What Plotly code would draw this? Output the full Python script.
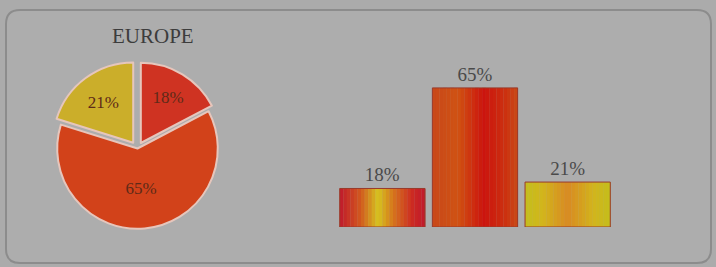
import plotly.graph_objects as go

# ---- data ----
categories = ["A", "B", "C"]
bar_values = [18, 65, 21]
bar_labels = ["18%", "65%", "21%"]

pie_values = [18, 65, 21]
pie_labels = ["18%", "65%", "21%"]
pie_pull = [0.08, 0, 0.09]
pie_colors = ["#cf3322", "#d2421a", "#cbae2a"]

title_text = "EUROPE"

W, H = 716, 267

def px(x):
    return x / W

def py(y):
    return 1 - y / H

def hex2rgb(h):
    h = h.lstrip("#")
    return tuple(int(h[i:i + 2], 16) for i in (0, 2, 4))

def grad(stops, t):
    for (t0, c0), (t1, c1) in zip(stops, stops[1:]):
        if t0 <= t <= t1:
            f = (t - t0) / (t1 - t0) if t1 > t0 else 0
            a, b = hex2rgb(c0), hex2rgb(c1)
            return "rgb(%d,%d,%d)" % tuple(round(a[i] + (b[i] - a[i]) * f) for i in range(3))
    return stops[-1][1]

bar_gradients = [
    [(0, "#c01a2c"), (0.25, "#d25a1e"), (0.45, "#d6c420"), (0.62, "#d6781c"), (0.85, "#cc2a22"), (1, "#c0182c")],
    [(0, "#c8481a"), (0.3, "#d05212"), (0.6, "#cc140e"), (0.85, "#cc3010"), (1, "#c84a16")],
    [(0, "#c4be1c"), (0.2, "#d2b61c"), (0.5, "#d88a22"), (0.8, "#d2b41c"), (1, "#c4be1c")],
]

fig = go.Figure()

# gradient strips for bars
BW = 0.92
N = 24
for k in range(N):
    t = (k + 0.5) / N
    fig.add_trace(go.Bar(
        x=categories, y=bar_values,
        width=[BW / N * 1.08] * 3,
        offset=[-BW / 2 + k * BW / N] * 3,
        marker=dict(color=[grad(g, t) for g in bar_gradients], line=dict(width=0)),
        xaxis="x", yaxis="y", hoverinfo="skip", showlegend=False,
    ))

# outline + labels
fig.add_trace(go.Bar(
    x=categories, y=bar_values, width=[BW] * 3, offset=[-BW / 2] * 3,
    text=bar_labels, textposition="outside", cliponaxis=False,
    constraintext="none",
    textfont=dict(family="Liberation Serif", size=19, color="#4a4a4a"),
    marker=dict(color="rgba(0,0,0,0)", line=dict(color="#9a3a2a", width=1)),
    xaxis="x", yaxis="y", showlegend=False,
))

fig.add_trace(go.Pie(
    values=pie_values, text=pie_labels, textinfo="text",
    sort=False, direction="clockwise", rotation=0,
    pull=pie_pull,
    marker=dict(colors=pie_colors, line=dict(color="#e6c6bc", width=2)),
    textfont=dict(family="Liberation Serif", size=17, color="#5e2a18"),
    insidetextorientation="horizontal",
    domain=dict(x=[px(50), px(225)], y=[py(236), py(61)]),
    showlegend=False,
))

# rounded panel
x0, x1, y0, y1, r = 6, 711, 10, 263, 14
path = (
    f"M {px(x0 + r)},{py(y0)} L {px(x1 - r)},{py(y0)} "
    f"Q {px(x1)},{py(y0)} {px(x1)},{py(y0 + r)} L {px(x1)},{py(y1 - r)} "
    f"Q {px(x1)},{py(y1)} {px(x1 - r)},{py(y1)} L {px(x0 + r)},{py(y1)} "
    f"Q {px(x0)},{py(y1)} {px(x0)},{py(y1 - r)} L {px(x0)},{py(y0 + r)} "
    f"Q {px(x0)},{py(y0)} {px(x0 + r)},{py(y0)} Z"
)

fig.update_layout(
    width=W, height=H,
    margin=dict(l=0, r=0, t=0, b=0),
    paper_bgcolor="#ababab",
    plot_bgcolor="rgba(0,0,0,0)",
    barmode="overlay",
    xaxis=dict(domain=[px(336), px(614)], range=[-0.5, 2.5], visible=False, fixedrange=True),
    yaxis=dict(domain=[py(227), py(10)], range=[0, 217 / 2.14], visible=False, fixedrange=True),
    shapes=[dict(type="path", path=path, xref="paper", yref="paper",
                 fillcolor="#adadad", line=dict(color="#8c8c8c", width=2), layer="below")],
    annotations=[dict(text=title_text, x=px(153), y=py(36), xref="paper", yref="paper",
                      showarrow=False, xanchor="center", yanchor="middle",
                      font=dict(family="Liberation Serif", size=21, color="#3c3c3c"))],
)

fig.write_html(
    "out.html",
    config={"displayModeBar": False},
    post_script="document.body.style.margin='0';document.body.style.background='#ababab';"
                "document.body.style.overflow='hidden';",
)
